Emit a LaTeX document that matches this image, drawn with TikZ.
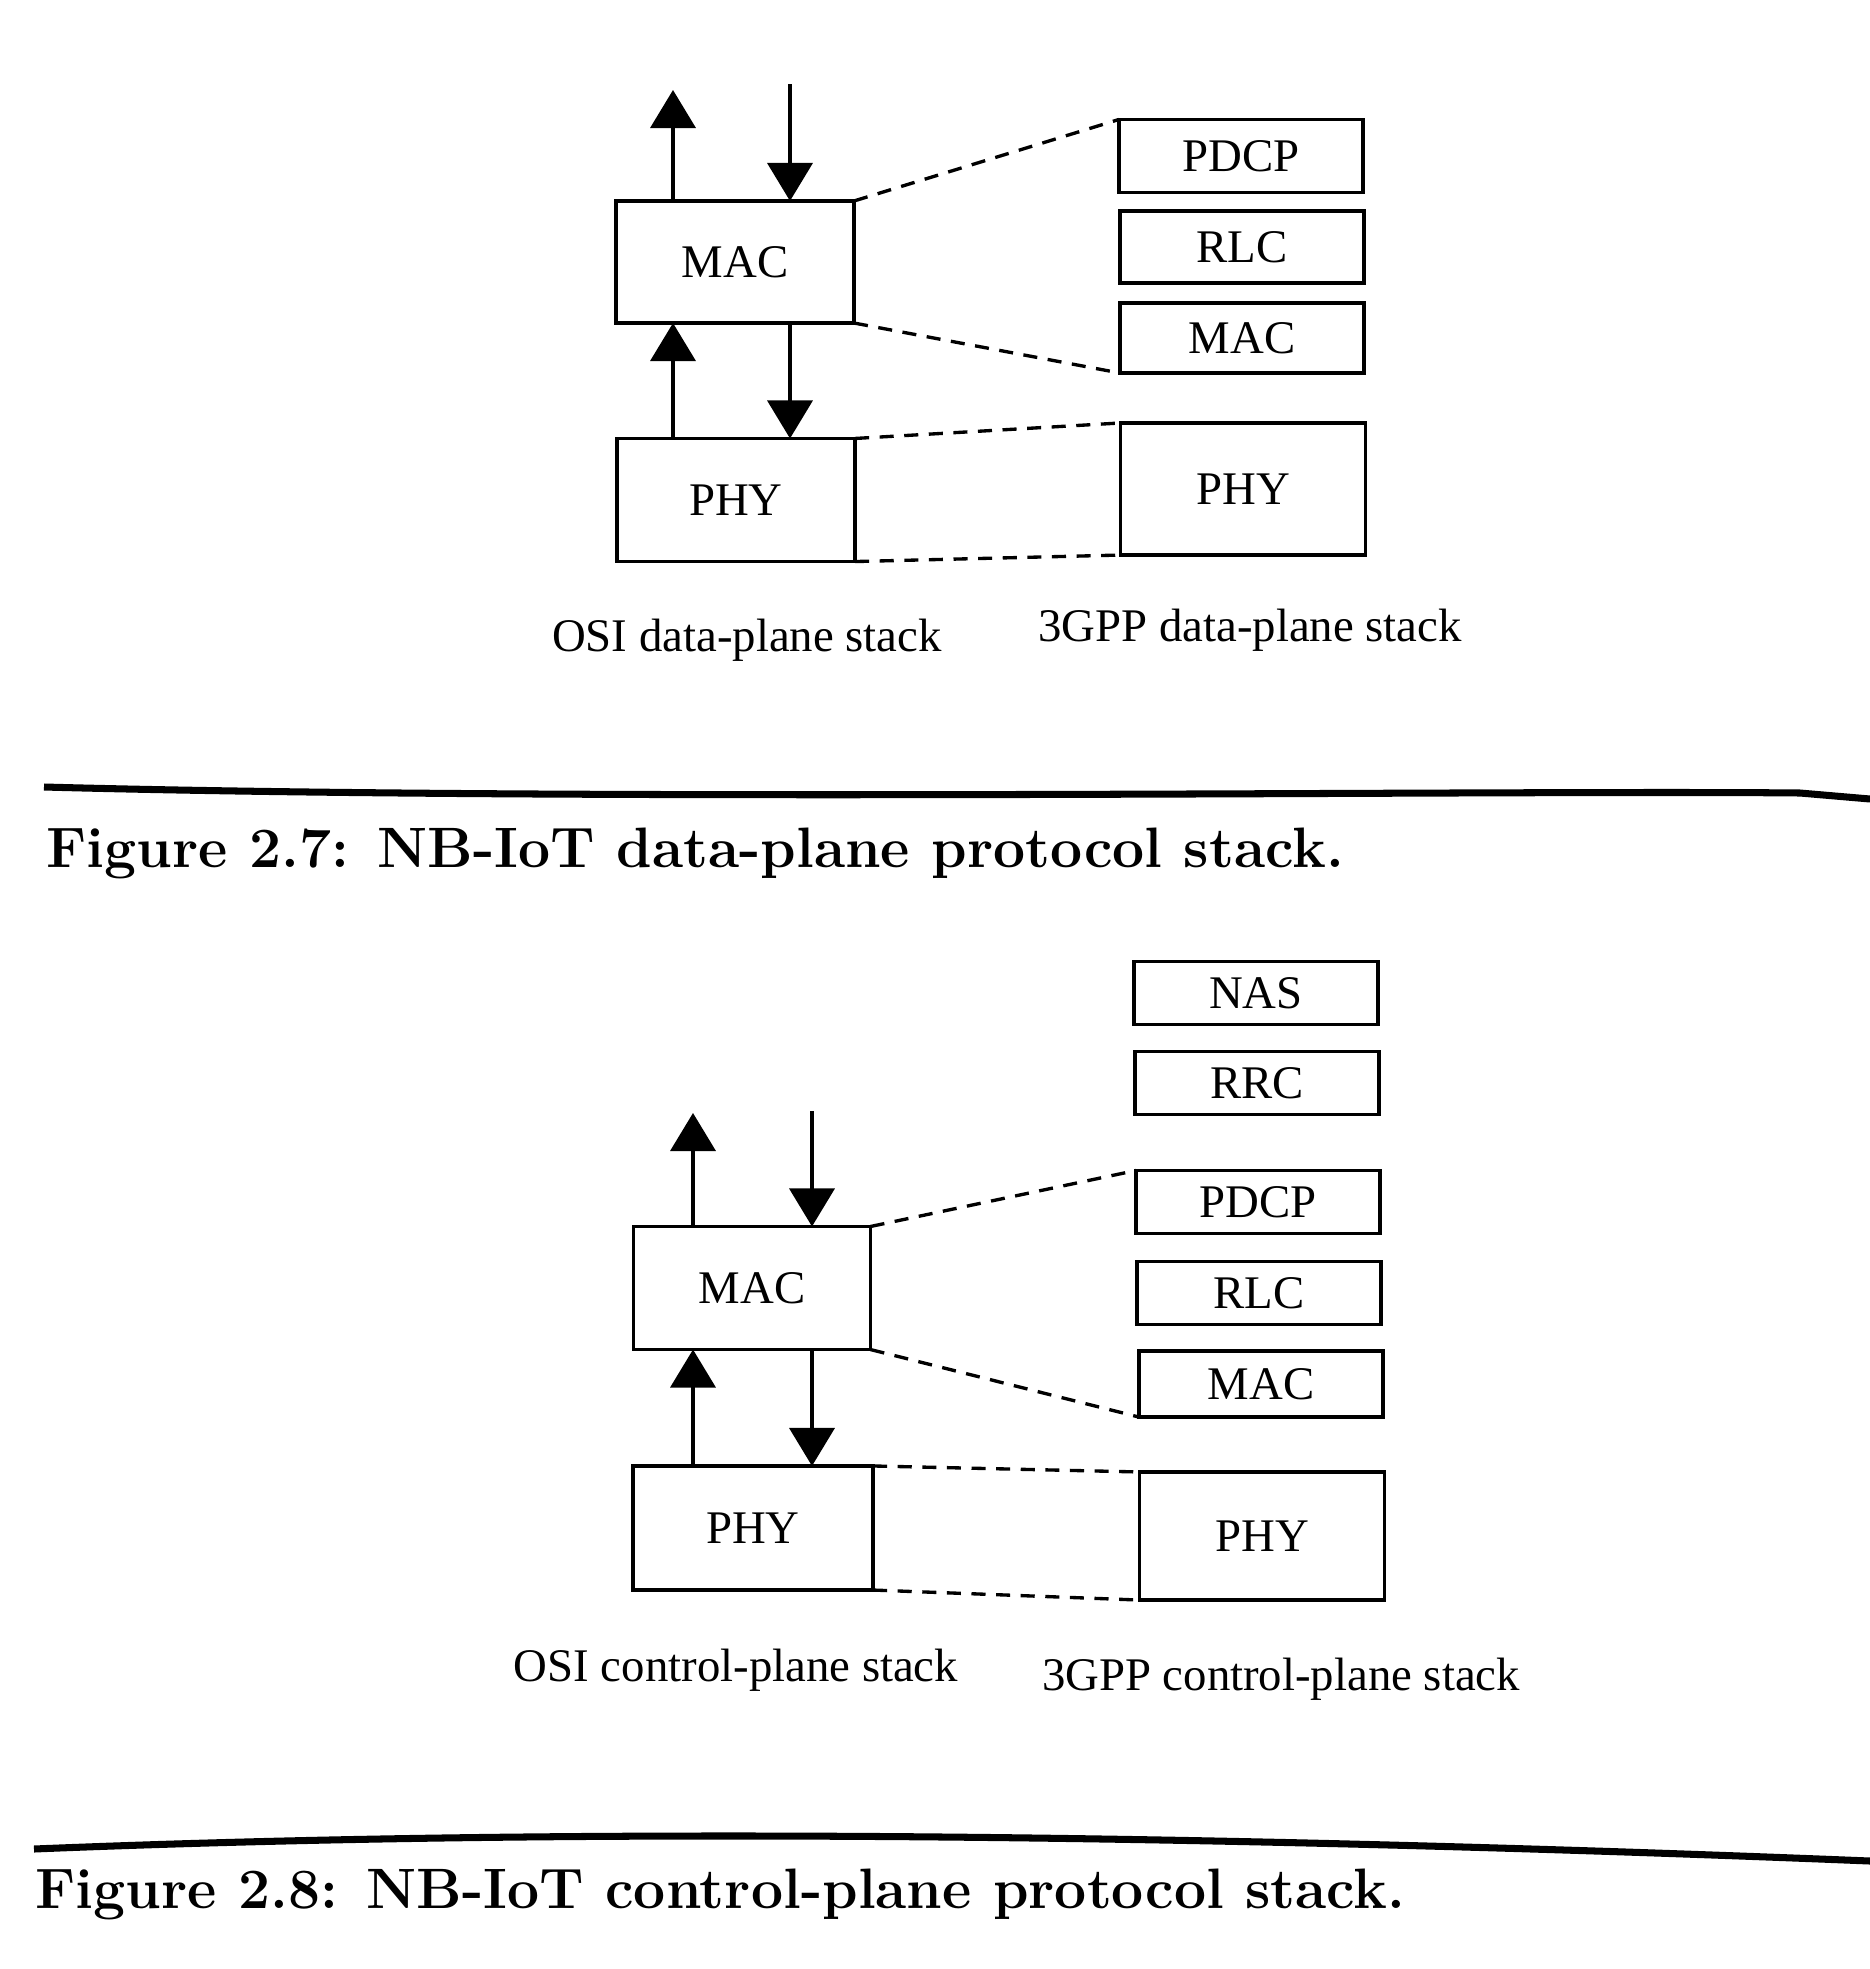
\documentclass[tikz,border=0pt]{standalone}
\usepackage{fontspec}
\newfontfamily\diagfont{Liberation Serif}
\usetikzlibrary{arrows.meta}
\begin{document}
\begin{tikzpicture}[x=0.01cm,y=-0.01cm,
  box/.style={draw,line width=1pt,inner sep=0pt,outer sep=0pt,font=\diagfont\fontsize{13.3}{15}\selectfont},
  arr/.style={line width=1.05pt,-{Triangle[width=0.45cm,length=0.38cm]}},
  dsh/.style={line width=0.95pt,dash pattern=on 4pt off 3pt},
  lbl/.style={font=\diagfont\fontsize{13.3}{15}\selectfont,inner sep=0pt},
  figcap/.style={font=\bfseries\fontsize{16.2}{19}\selectfont,inner sep=0pt,anchor=base west},
  rulel/.style={line width=2pt}]
\useasboundingbox (0,0) rectangle (1870,1969);
% ---------- Figure 2.7 ----------
\node[box,minimum width=2.38cm,minimum height=1.22cm] (omac) at (735,262) {MAC};
\node[box,minimum width=2.38cm,minimum height=1.23cm] (ophy) at (736,500) {PHY};
\node[box,minimum width=2.44cm,minimum height=0.73cm] (gpdcp) at (1241,156) {PDCP};
\node[box,minimum width=2.44cm,minimum height=0.72cm] (grlc) at (1242,247) {RLC};
\node[box,minimum width=2.44cm,minimum height=0.70cm] (gmac) at (1242,338) {MAC};
\node[box,minimum width=2.45cm,minimum height=1.32cm] (gphy) at (1243,489) {PHY};
\coordinate (a1) at (673,90);
\coordinate (a2) at (790,84);
\draw[arr] (a1 |- omac.north) -- (a1);
\draw[arr] (a2) -- (a2 |- omac.north);
\draw[arr] (a1 |- ophy.north) -- (a1 |- omac.south);
\draw[arr] (a2 |- omac.south) -- (a2 |- ophy.north);
\draw[dsh] (omac.north east) -- (gpdcp.north west);
\draw[dsh] (omac.south east) -- (gmac.south west);
\draw[dsh] (ophy.north east) -- (gphy.north west);
\draw[dsh] (ophy.south east) -- (gphy.south west);
\node[lbl] (l1) at (747,640) {OSI data-plane stack};
\node[lbl] (l2) at (1250,630) {3GPP data-plane stack};
\draw[rulel] (44,787) .. controls (600,802) and (1500,790) .. (1800,793) -- (1870,799);
\node[figcap] (c1) at (46,867) {Figure 2.7: NB-IoT data-plane protocol stack.};
% ---------- Figure 2.8 ----------
\node[box,minimum width=2.37cm,minimum height=1.23cm] (cmac) at (752,1288) {MAC};
\node[box,minimum width=2.40cm,minimum height=1.24cm] (cphy) at (753,1528) {PHY};
\node[box,minimum width=2.44cm,minimum height=0.63cm] (nas) at (1256,993) {NAS};
\node[box,minimum width=2.44cm,minimum height=0.63cm] (rrc) at (1257,1083) {RRC};
\node[box,minimum width=2.44cm,minimum height=0.63cm] (pdcp) at (1258,1202) {PDCP};
\node[box,minimum width=2.44cm,minimum height=0.63cm] (rlc) at (1259,1293) {RLC};
\node[box,minimum width=2.44cm,minimum height=0.66cm] (mac) at (1261,1384) {MAC};
\node[box,minimum width=2.45cm,minimum height=1.28cm] (phy) at (1262,1536) {PHY};
\coordinate (b1) at (693,1113);
\coordinate (b2) at (812,1111);
\draw[arr] (b1 |- cmac.north) -- (b1);
\draw[arr] (b2) -- (b2 |- cmac.north);
\draw[arr] (b1 |- cphy.north) -- (b1 |- cmac.south);
\draw[arr] (b2 |- cmac.south) -- (b2 |- cphy.north);
\draw[dsh] (cmac.north east) -- (pdcp.north west);
\draw[dsh] (cmac.south east) -- (mac.south west);
\draw[dsh] (cphy.north east) -- (phy.north west);
\draw[dsh] (cphy.south east) -- (phy.south west);
\node[lbl] (l3) at (736,1670) {OSI control-plane stack};
\node[lbl] (l4) at (1281,1679) {3GPP control-plane stack};
\draw[rulel] (34,1849) .. controls (500,1830) and (1100,1830) .. (1870,1861);
\node[figcap] (c2) at (35,1908) {Figure 2.8: NB-IoT control-plane protocol stack.};
\end{tikzpicture}
\end{document}
